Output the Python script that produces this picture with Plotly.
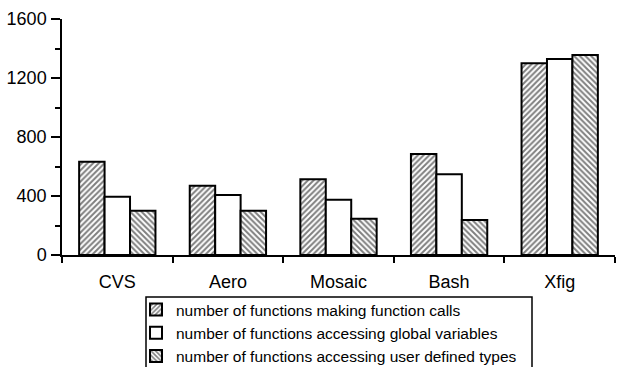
import plotly.graph_objects as go

categories = ["CVS", "Aero", "Mosaic", "Bash", "Xfig"]
calls = [632, 470, 513, 685, 1300]
globals_ = [395, 407, 375, 547, 1329]
usertypes = [300, 300, 246, 237, 1356]
series_names = [
    "number of functions making function calls",
    "number of functions accessing global variables",
    "number of functions accessing user defined types",
]
y_ticks = [0, 400, 800, 1200, 1600]

W, H = 617, 367
L, R, T, B = 62, 2, 19, 112
pw, ph = W - L - R, H - T - B

def px2paper(x, y):
    return (x - L) / pw, (H - B - y) / ph

fig = go.Figure()
shapes_cfg = ["/", "", "\\"]
for name, vals, shp in zip(series_names, [calls, globals_, usertypes], shapes_cfg):
    fig.add_trace(go.Bar(
        x=categories, y=vals, name=name,
        marker=dict(
            color="white",
            line=dict(color="black", width=2),
            pattern=dict(shape=shp, fgcolor="black", bgcolor="white", size=4, solidity=0.5),
        ),
    ))

font = "Liberation Sans, Arial, Helvetica, sans-serif"
fig.update_layout(
    width=W, height=H,
    margin=dict(l=L, r=R, t=T, b=B, autoexpand=False),
    paper_bgcolor="white", plot_bgcolor="white",
    barmode="group", bargap=0.31, bargroupgap=0,
    font=dict(family=font, size=18, color="black"),
    showlegend=True,
    legend=dict(
        xref="container", yref="container",
        x=136 / W, y=1 - 293 / H, xanchor="left", yanchor="top",
        font=dict(size=15.5), bgcolor="rgba(0,0,0,0)", borderwidth=0,
        itemclick=False, tracegroupgap=0, itemwidth=30,
    ),
    xaxis=dict(
        type="category", showgrid=False, showline=True, linecolor="black", linewidth=1.5,
        ticks="outside", tickson="boundaries", ticklen=6, tickwidth=1.5, tickcolor="black",
        ticklabelstandoff=10, tickfont=dict(size=18),
    ),
    yaxis=dict(
        range=[0, 1600], showgrid=False, zeroline=False, showline=True, linecolor="black", linewidth=1.5,
        ticks="outside", ticklen=9, tickwidth=1.5, tickcolor="black", ticklabelstandoff=1,
        tickvals=y_ticks, ticktext=[str(v) for v in y_ticks], tickfont=dict(size=18),
        minor=dict(dtick=200, tick0=0, ticks="outside", ticklen=5, tickwidth=1.5, tickcolor="black"),
    ),
)

x0, y0 = px2paper(146, 297)
x1, y1 = px2paper(532, 400)
fig.add_shape(type="path", xref="paper", yref="paper",
              path=f"M {x0} {y1} L {x0} {y0} L {x1} {y0} L {x1} {y1}",
              line=dict(color="black", width=1.5))

fig.write_html("out.html")
